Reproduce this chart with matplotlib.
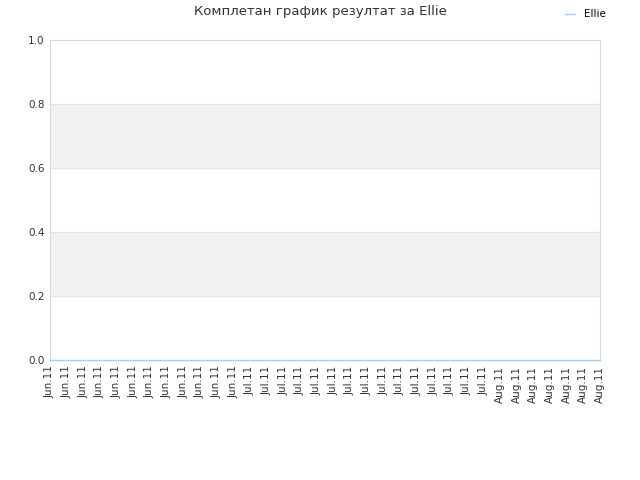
import matplotlib.pyplot as plt

# tick labels along the x axis, one per data point
dates = ['Jun.11'] * 12 + ['Jul.11'] * 15 + ['Aug.11'] * 7
scores = [0] * len(dates)

fig = plt.figure(figsize=(6.4, 4.8), dpi=100)
ax = fig.add_axes([50 / 640, 1 - 360 / 480, 550 / 640, 320 / 480])

x = list(range(len(dates)))
ax.axhspan(0.2, 0.4, color='#f2f2f2', zorder=0)
ax.axhspan(0.6, 0.8, color='#f2f2f2', zorder=0)
for y in [0.2, 0.4, 0.6, 0.8]:
    ax.axhline(y, color='#e6e6e6', lw=0.8, zorder=1)

ax.plot(x, scores, color='#a8cdf0', lw=1.0, label='Ellie', zorder=5, clip_on=False)

ax.set_xlim(0, len(dates) - 1)
ax.set_ylim(0, 1.0)
ax.set_yticks([0, 0.2, 0.4, 0.6, 0.8, 1.0])
ax.set_yticklabels(['0.0', '0.2', '0.4', '0.6', '0.8', '1.0'])
ax.set_xticks(x)
ax.set_xticklabels(dates, rotation=90)
ax.tick_params(labelsize=7.5, colors='#333333', length=0, pad=4)

for side in ax.spines.values():
    side.set_color('#d9d9d9')
    side.set_linewidth(0.8)
    side.set_zorder(2)

fig.text(0.5, 1 - 12 / 480, 'Комплетан график резултат за Ellie',
         ha='center', va='center', fontsize=9.5, color='#333333')
fig.legend(loc='upper right', bbox_to_anchor=(615 / 640, 1.0), frameon=False,
           fontsize=7.5, handlelength=1.0, handletextpad=0.8)

fig.savefig('out.png')
